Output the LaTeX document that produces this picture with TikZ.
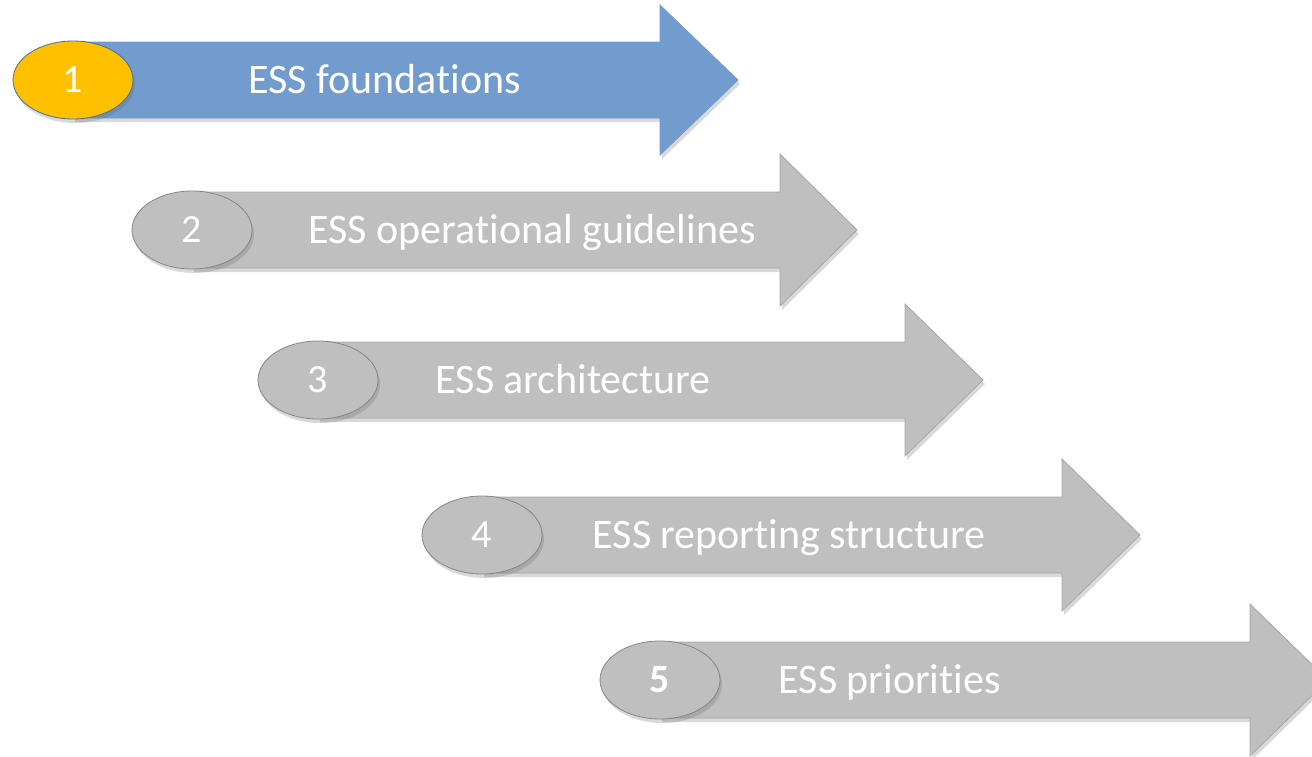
\documentclass[tikz,border=0pt]{standalone}
\usepackage{fontspec}
\setmainfont{Carlito}[Ligatures=NoCommon]
\usepackage{xcolor}
\usepackage{tikz}
\usetikzlibrary{shapes,arrows}
\usetikzlibrary{positioning}
\usetikzlibrary{shadows}
\definecolor{stepblue}{RGB}{114,155,206}
\definecolor{stepgray}{RGB}{191,191,191}
\definecolor{rimgray}{RGB}{166,166,166}
\definecolor{badgeyellow}{RGB}{255,192,0}
\definecolor{rimblue}{RGB}{65,113,156}
\tikzstyle{soft shadow} = [drop shadow={shadow xshift=2pt, shadow yshift=-4pt,
                           opacity=0.25, fill=black!60}]
\tikzstyle{shaft} = [fill=stepgray, draw=rimgray, line width=0.8pt, soft shadow]
\tikzstyle{first shaft} = [shaft, fill=stepblue, draw=stepblue]
\tikzstyle{badge} = [ellipse, draw=rimgray!80!black, fill=stepgray, line width=0.8pt,
    minimum width=120pt, minimum height=78pt, inner sep=0pt, text=white,
    font=\fontsize{40}{48}\selectfont, soft shadow]
\tikzstyle{first badge} = [badge, fill=badgeyellow, draw=rimblue]
\tikzstyle{steptext} = [inner sep=0pt, text height=27pt, text depth=0pt,
    text=white, font=\fontsize{42}{50}\selectfont]

\begin{document}
\begin{tikzpicture}[x=1pt, y=-1pt]
  \useasboundingbox (0,0) rectangle (1312,756);
  \clip (0,0) rectangle (1312,756);

  % Arrow bodies
  \path [first shaft] (73,42) -- (660,42) -- (660,5) -- (738,80) -- (660,155)
    -- (660,118) -- (73,118) -- cycle;
  \path [shaft] (192,192) -- (780,192) -- (780,154) -- (857,230) -- (780,306)
    -- (780,268) -- (192,268) -- cycle;
  \path [shaft] (318,342) -- (905,342) -- (905,304) -- (983,380) -- (905,456)
    -- (905,418) -- (318,418) -- cycle;
  \path [shaft] (482,497) -- (1062,497) -- (1062,459) -- (1140,535) -- (1062,611)
    -- (1062,573) -- (482,573) -- cycle;
  \path [shaft] (660,642) -- (1250,642) -- (1250,604) -- (1328,680) -- (1250,756)
    -- (1250,718) -- (660,718) -- cycle;

  % Place badges
  \node [first badge] (n1) at (73,80) {1};
  \node [badge] (n2) at (192,230) {2};
  \node [badge] (n3) at (318,380) {3};
  \node [badge] (n4) at (482,535) {4};
  \node [badge] (n5) at (660,680) {\bfseries 5};

  % Place captions
  \node [steptext, right=115pt of n1] (t1) {ESS foundations};
  \node [steptext, right=56pt of n2] (t2) {ESS operational guidelines};
  \node [steptext, right=57pt of n3] (t3) {ESS architecture};
  \node [steptext, right=50pt of n4] (t4) {ESS reporting structure};
  \node [steptext, right=58pt of n5] (t5) {ESS priorities};
\end{tikzpicture}
\end{document}
